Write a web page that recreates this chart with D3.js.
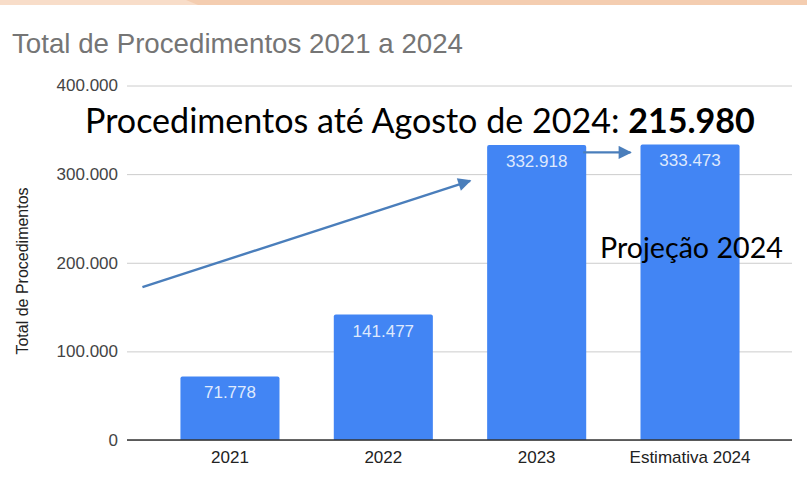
<!DOCTYPE html>
<html>
<head>
<meta charset="utf-8">
<script src="https://cdn.jsdelivr.net/npm/d3@7"></script>
<style>
  body { margin: 0; background: #fff; }
  svg { display: block; }
</style>
</head>
<body>
<svg width="807" height="491"></svg>
<script>
// data
const categories = ["2021", "2022", "2023", "Estimativa 2024"];
const totals = [71778, 141477, 332918, 333473];
const yTicks = [0, 100000, 200000, 300000, 400000];
const chartTitle = "Total de Procedimentos 2021 a 2024";
const yTitle = "Total de Procedimentos";
const noteText = "Procedimentos até Agosto de 2024: ";
const noteValue = 215980;
const projText = "Projeção 2024";

const width = 807, height = 491;
const svg = d3.select("svg");

const pt = d3.formatLocale({ decimal: ",", thousands: ".", grouping: [3], currency: ["R$", ""] });
const fmt = pt.format(",d");

// top strip of the slide
svg.append("rect").attr("x", 0).attr("y", 0).attr("width", width).attr("height", 5).attr("fill", "#f4cdb0");
svg.append("path").attr("d", "M0,0 L186,0 L198,5 L0,5 Z").attr("fill", "#f8ddc9");

const plotLeft = 127, plotRight = 792;

const x = d3.scaleBand()
  .domain(categories)
  .range([153.3, 766.7])
  .paddingInner(0.354)
  .paddingOuter(0.177);

const y = d3.scaleLinear()
  .domain([0, 400000])
  .range([440, 85.5]);

// title
const title = svg.append("text")
  .attr("x", 12).attr("y", 53)
  .attr("font-family", "Liberation Sans, Arial, sans-serif")
  .attr("font-size", 27.5)
  .attr("fill", "#757575")
  .text(chartTitle);
title.attr("textLength", 451).attr("lengthAdjust", "spacingAndGlyphs");

// gridlines + y labels
const yAxis = svg.append("g")
  .attr("transform", `translate(${plotLeft},0)`)
  .call(d3.axisLeft(y).tickValues(yTicks).tickSize(-(plotRight - plotLeft)).tickPadding(9).tickFormat(fmt));
yAxis.select(".domain").remove();
yAxis.selectAll(".tick line").attr("stroke", "#cccccc").attr("stroke-width", 1);
yAxis.selectAll(".tick text")
  .attr("font-family", "Liberation Sans, Arial, sans-serif")
  .attr("font-size", 17)
  .attr("fill", "#444");

// y title
svg.append("text")
  .attr("transform", `translate(27.5,271) rotate(-90)`)
  .attr("text-anchor", "middle")
  .attr("font-family", "Liberation Sans, Arial, sans-serif")
  .attr("font-size", 16)
  .attr("fill", "#222")
  .text(yTitle);

// bars with slightly rounded top corners
const r = 2;
svg.append("g").selectAll("path")
  .data(categories)
  .join("path")
  .attr("fill", "#4285f4")
  .attr("d", (c, i) => {
    const x0 = x(c), x1 = x0 + x.bandwidth(), top = y(totals[i]), bot = y(0);
    return `M${x0},${bot} L${x0},${top + r} Q${x0},${top} ${x0 + r},${top} L${x1 - r},${top} Q${x1},${top} ${x1},${top + r} L${x1},${bot} Z`;
  });

// value labels
svg.append("g").selectAll("text")
  .data(categories)
  .join("text")
  .attr("x", c => x(c) + x.bandwidth() / 2)
  .attr("y", (c, i) => y(totals[i]) + 22)
  .attr("text-anchor", "middle")
  .attr("font-family", "Liberation Sans, Arial, sans-serif")
  .attr("font-size", 17)
  .attr("fill", "#dfe9fd")
  .text((c, i) => fmt(totals[i]));

// x axis baseline
svg.append("line")
  .attr("x1", plotLeft).attr("x2", plotRight)
  .attr("y1", y(0)).attr("y2", y(0))
  .attr("stroke", "#333").attr("stroke-width", 1.3);

// x labels
svg.append("g").selectAll("text")
  .data(categories)
  .join("text")
  .attr("x", c => x(c) + x.bandwidth() / 2)
  .attr("y", 463)
  .attr("text-anchor", "middle")
  .attr("font-family", "Liberation Sans, Arial, sans-serif")
  .attr("font-size", 17)
  .attr("fill", "#222")
  .text(c => c);

// annotations (slide overlay)
const note = svg.append("text")
  .attr("x", 85).attr("y", 133)
  .attr("font-family", "Lato, 'Open Sans', sans-serif")
  .attr("font-size", 34)
  .attr("fill", "#000");
note.append("tspan").text(noteText);
note.append("tspan").attr("font-weight", "bold").text(fmt(noteValue));
const nw = note.node().getComputedTextLength();
note.attr("font-size", 34 * 670 / nw);

const proj = svg.append("text")
  .attr("x", 600).attr("y", 258)
  .attr("font-family", "Lato, 'Open Sans', sans-serif")
  .attr("font-size", 28)
  .attr("fill", "#000")
  .text(projText);
const pw = proj.node().getComputedTextLength();
proj.attr("font-size", 28 * 183 / pw);

// arrows
const defs = svg.append("defs");
defs.append("marker")
  .attr("id", "arrow")
  .attr("viewBox", "0 0 10 10")
  .attr("refX", 9).attr("refY", 5)
  .attr("markerWidth", 6.5).attr("markerHeight", 5.5)
  .attr("markerUnits", "strokeWidth")
  .attr("orient", "auto")
  .append("path").attr("d", "M0,0 L10,5 L0,10 Z").attr("fill", "#4a7ebb");

const arrows = [
  { x1: x("2021") - 38, y1: y(172500), x2: x("2023") - 17, y2: y(292500) },
  { x1: x("2023") + x.bandwidth() - 3, y1: y(324500), x2: x("Estimativa 2024") - 10, y2: y(324500) }
];
svg.append("g").selectAll("line")
  .data(arrows)
  .join("line")
  .attr("x1", d => d.x1).attr("y1", d => d.y1)
  .attr("x2", d => d.x2).attr("y2", d => d.y2)
  .attr("stroke", "#4a7ebb")
  .attr("stroke-width", 2.4)
  .attr("marker-end", "url(#arrow)");
</script>
</body>
</html>
